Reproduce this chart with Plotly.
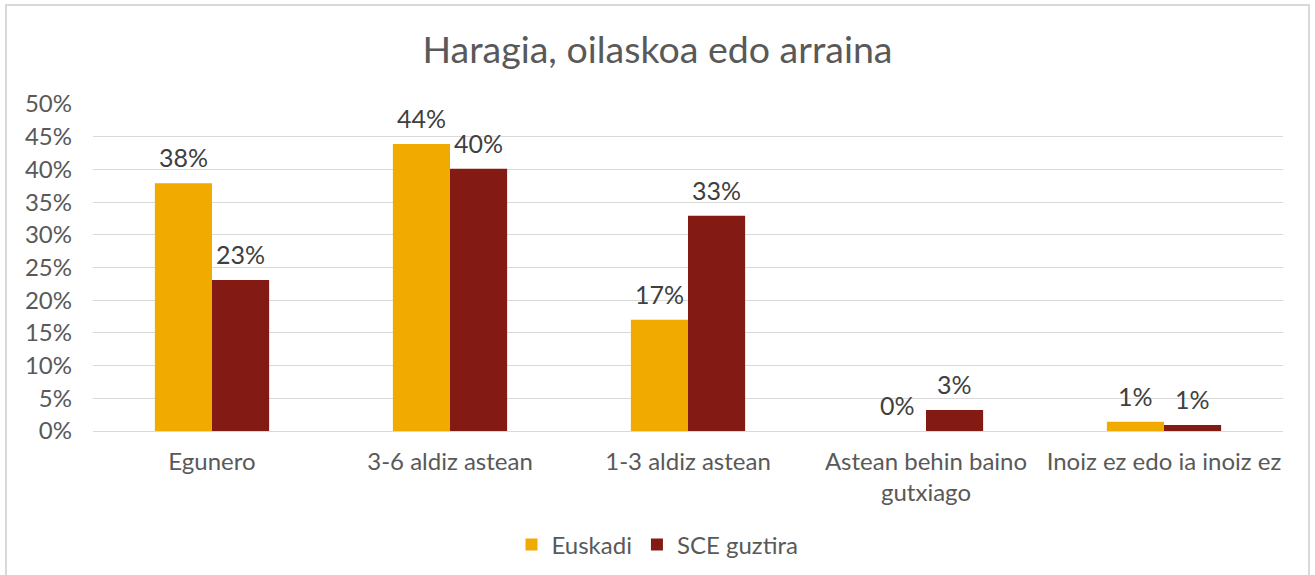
import plotly.graph_objects as go

categories = ["Egunero", "3-6 aldiz astean", "1-3 aldiz astean",
              "Astean behin baino<br>gutxiago", "Inoiz ez edo ia inoiz ez"]
euskadi = [0.379, 0.439, 0.170, 0.0, 0.014]
sce = [0.231, 0.401, 0.329, 0.032, 0.009]
euskadi_labels = ["38%", "44%", "17%", "0%", "1%"]
sce_labels = ["23%", "40%", "33%", "3%", "1%"]
y_ticks = [0, 0.05, 0.10, 0.15, 0.20, 0.25, 0.30, 0.35, 0.40, 0.45, 0.50]
y_tick_labels = ["0%", "5%", "10%", "15%", "20%", "25%", "30%", "35%", "40%", "45%", "50%"]

FONT = "Lato, 'Open Sans', sans-serif"
TXT = "#595959"
LBL = "#404040"

fig = go.Figure()
fig.add_trace(go.Bar(
    name="Euskadi", x=categories, y=euskadi,
    marker=dict(color="#F0AA00", line=dict(width=0)),
))
fig.add_trace(go.Bar(
    name="SCE guztira", x=categories, y=sce,
    marker=dict(color="#841A14", line=dict(width=0)),
))

L, R, T, B = 93, 32, 104, 144
W, H = 1315, 575
pw = W - L - R
ph = H - T - B

# data labels above bars
for vals, labs, shift in [(euskadi, euskadi_labels, -28.5), (sce, sce_labels, 28.5)]:
    for c, v, t in zip(categories, vals, labs):
        fig.add_annotation(x=c, y=v, xref="x", yref="y", text=t, showarrow=False,
                           xshift=shift, yshift=9, yanchor="bottom", xanchor="center",
                           font=dict(family=FONT, size=25, color=LBL))

fig.update_layout(
    width=W, height=H,
    margin=dict(l=L, r=R, t=T, b=B),
    paper_bgcolor="white", plot_bgcolor="white",
    barmode="group", bargap=0.52, bargroupgap=0,
    font=dict(family=FONT, size=24, color=TXT),
    title=dict(text="Haragia, oilaskoa edo arraina", x=0.5, xanchor="center",
               xref="container", y=1 - 50 / H, yanchor="middle", yref="container",
               font=dict(family=FONT, size=37.5, color=TXT)),
    xaxis=dict(showgrid=False, showline=True, linecolor="#d9d9d9", linewidth=1,
               ticks="", ticklabelstandoff=9,
               tickfont=dict(family=FONT, size=24, color=TXT)),
    yaxis=dict(range=[0, 0.5], tickvals=y_ticks, ticktext=y_tick_labels,
               showgrid=True, gridcolor="#d9d9d9", gridwidth=1, zeroline=False,
               showline=False, ticks="", ticklabelstandoff=20,
               tickfont=dict(family=FONT, size=24, color=TXT)),
    legend=dict(orientation="h", xref="container", x=0.5, xanchor="center",
                yref="container", y=1 - 545 / H, yanchor="middle",
                font=dict(family=FONT, size=24, color=TXT),
                traceorder="normal"),
    showlegend=True,
)

# outer chart border
fig.add_shape(type="rect", xref="paper", yref="paper",
              x0=(6 - L) / pw, x1=(1309 - L) / pw,
              y0=(T + ph - 590) / ph, y1=(T + ph - 5) / ph,
              line=dict(color="#d9d9d9", width=2), fillcolor="rgba(0,0,0,0)", layer="below")

fig.write_html("out.html", config={"displayModeBar": False},
               post_script="document.body.style.margin='0';")
